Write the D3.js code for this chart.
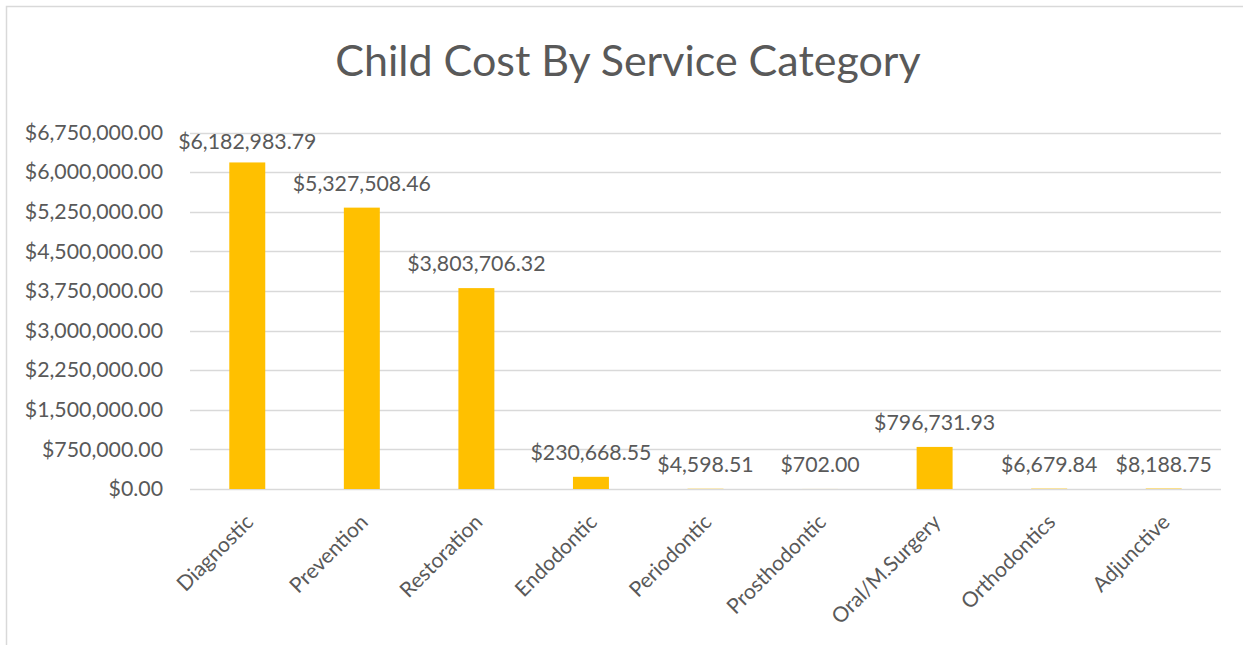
<!DOCTYPE html>
<html>
<head>
<meta charset="utf-8">
<script src="https://cdn.jsdelivr.net/npm/d3@7"></script>
<style>
  html, body { margin: 0; padding: 0; background: #fff; }
  svg { display: block; }
</style>
</head>
<body>
<svg id="chart" width="1243" height="645"></svg>
<script>
// Service categories and their total child cost
const categories = ["Diagnostic", "Prevention", "Restoration", "Endodontic", "Periodontic",
                    "Prosthodontic", "Oral/M.Surgery", "Orthodontics", "Adjunctive"];
const costs = [6182983.79, 5327508.46, 3803706.32, 230668.55, 4598.51,
               702.00, 796731.93, 6679.84, 8188.75];
const yTicks = [0, 750000, 1500000, 2250000, 3000000, 3750000, 4500000, 5250000, 6000000, 6750000];
const title = "Child Cost By Service Category";

const svg = d3.select("#chart");
const W = 1243, H = 645;
const plot = { left: 190, right: 1221, top: 132.5, bottom: 489 };
const textColor = "#595959";
const gridColor = "#D9D9D9";
const font = "Lato, 'Open Sans', sans-serif";
const money = v => "$" + d3.format(",.2f")(v);

// chart frame
svg.append("rect")
  .attr("x", 6.5).attr("y", 6.5)
  .attr("width", W + 10).attr("height", H + 10)
  .attr("fill", "#fff").attr("stroke", gridColor).attr("stroke-width", 1.5);

// title
svg.append("text")
  .attr("x", 628).attr("y", 76)
  .attr("text-anchor", "middle")
  .attr("font-family", font).attr("font-size", 43)
  .attr("fill", textColor)
  .text(title);

const x = d3.scaleBand()
  .domain(categories)
  .range([plot.left, plot.right])
  .paddingInner(0.686)
  .paddingOuter(0.343);

const y = d3.scaleLinear()
  .domain([0, d3.max(yTicks)])
  .range([plot.bottom, plot.top]);

// horizontal gridlines
svg.append("g")
  .selectAll("line")
  .data(yTicks)
  .join("line")
  .attr("x1", plot.left).attr("x2", plot.right)
  .attr("y1", d => Math.round(y(d)) + 0.5).attr("y2", d => Math.round(y(d)) + 0.5)
  .attr("stroke", gridColor).attr("stroke-width", 1.3);

// value axis
const yAxis = d3.axisLeft(y).tickValues(yTicks).tickFormat(money).tickSize(0).tickPadding(27);
const gy = svg.append("g")
  .attr("transform", `translate(${plot.left},0)`)
  .call(yAxis);
gy.select(".domain").remove();
gy.selectAll("text")
  .attr("font-family", font).attr("font-size", 21.3)
  .attr("fill", textColor);

// bars
svg.append("g")
  .selectAll("rect")
  .data(costs)
  .join("rect")
  .attr("x", (d, i) => x(categories[i]))
  .attr("width", x.bandwidth())
  .attr("y", d => y(d))
  .attr("height", d => y(0) - y(d))
  .attr("fill", "#FFC000");

// value labels above each bar, kept inside the plot area
svg.append("g")
  .selectAll("text")
  .data(costs)
  .join("text")
  .attr("x", (d, i) => x(categories[i]) + x.bandwidth() / 2)
  .attr("y", d => Math.max(y(d) - 17, plot.top + 16.5))
  .attr("text-anchor", "middle")
  .attr("font-family", font).attr("font-size", 21.3)
  .attr("fill", textColor)
  .text(money);

// category axis labels, rotated
const xAxis = d3.axisBottom(x).tickSize(0).tickPadding(0);
const gx = svg.append("g")
  .attr("transform", `translate(0,${plot.bottom})`)
  .call(xAxis);
gx.select(".domain").remove();
gx.selectAll(".tick text")
  .attr("font-family", font).attr("font-size", 21)
  .attr("fill", textColor)
  .attr("text-anchor", "end")
  .attr("transform", "translate(-3,24) rotate(-45)")
  .attr("x", 0).attr("y", 0)
  .attr("dy", "0.7em");
</script>
</body>
</html>
